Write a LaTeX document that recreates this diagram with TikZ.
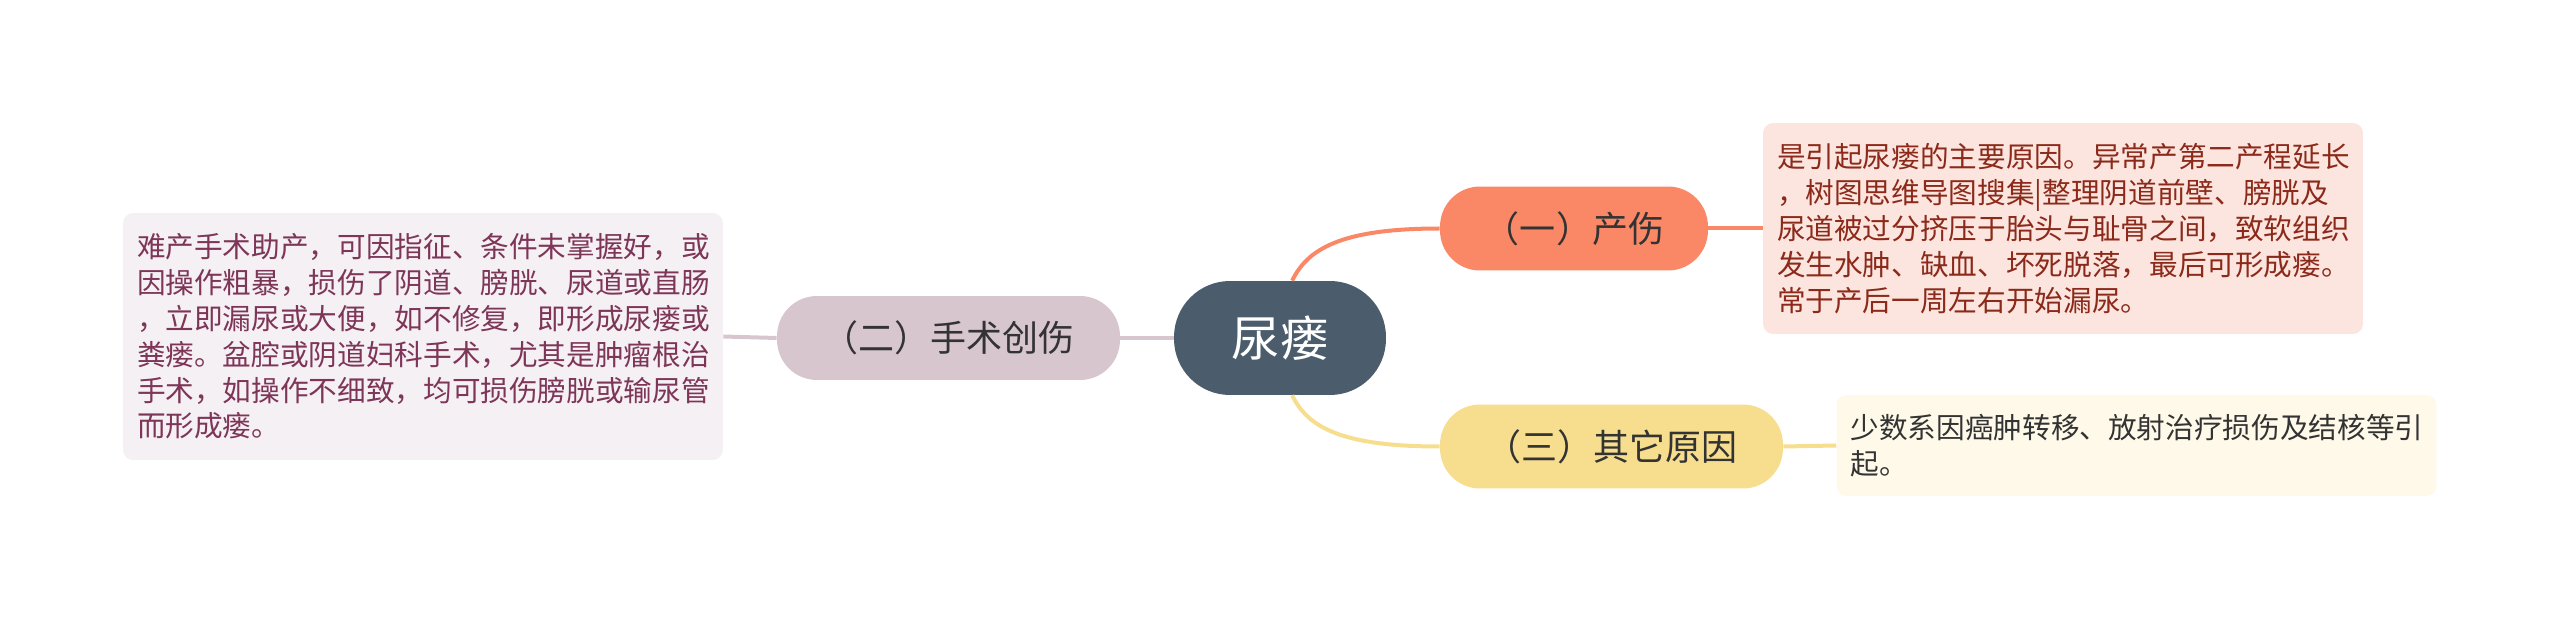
\documentclass[tikz,border=0pt]{standalone}
\usepackage{fontspec}
\setmainfont{Noto Sans CJK SC}
\usepackage{xcolor}
\usepackage{tikz}

\definecolor{rootc}{HTML}{4B5D6C}
\definecolor{chanc}{HTML}{FA8866}
\definecolor{shouc}{HTML}{D8C6CF}
\definecolor{qitac}{HTML}{F6DE8E}
\definecolor{chanbg}{HTML}{FDE5DF}
\definecolor{shoubg}{HTML}{F5F0F3}
\definecolor{qitabg}{HTML}{FEF9E9}
\definecolor{chantx}{HTML}{8B2A1A}
\definecolor{shoutx}{HTML}{7D3558}

\begin{document}
\begin{tikzpicture}[x=0.02cm, y=-0.02cm,
  br/.style={rounded corners=0.8cm, align=center, inner sep=0pt,
             minimum height=1.68cm, text=black!80,
             font=\fontsize{20.5pt}{24pt}\selectfont},
  card/.style={rounded corners=0.2cm, align=left, inner xsep=0.28cm,
               inner ysep=0pt, text width=11.44cm,
               font=\fontsize{16.3pt}{20.4pt}\selectfont},
  ln/.style={line width=0.08cm}]
\useasboundingbox (0,0) rectangle (2560,621);

% 中心与三条分支
\node[fill=rootc, text=white, rounded corners=1.12cm, minimum width=4.24cm,
      minimum height=2.28cm, font=\fontsize{27.5pt}{30pt}\selectfont]
  (root) at (1280,338) {尿瘘};
\node[br, fill=chanc, minimum width=5.36cm] (chan) at (1574,228.5) {（一）产伤};
\node[br, fill=shouc, minimum width=6.86cm] (shou) at (948.5,338) {（二）手术创伤};
\node[br, fill=qitac, minimum width=6.86cm] (qita) at (1611.5,446.5) {（三）其它原因};

% 说明卡片
\node[card, fill=chanbg, text=chantx, minimum height=4.22cm] (nchan) at (2063,228.5)
  {是引起尿瘘的主要原因。异常产第二产程延长\\
   ，树图思维导图搜集|整理阴道前壁、膀胱及\\
   尿道被过分挤压于胎头与耻骨之间，致软组织\\
   发生水肿、缺血、坏死脱落，最后可形成瘘。\\
   常于产后一周左右开始漏尿。};
\node[card, fill=shoubg, text=shoutx, minimum height=4.94cm] (nshou) at (423,336.5)
  {难产手术助产，可因指征、条件未掌握好，或\\
   因操作粗暴，损伤了阴道、膀胱、尿道或直肠\\
   ，立即漏尿或大便，如不修复，即形成尿瘘或\\
   粪瘘。盆腔或阴道妇科手术，尤其是肿瘤根治\\
   手术，如操作不细致，均可损伤膀胱或输尿管\\
   而形成瘘。};
\node[card, fill=qitabg, text=black!80, minimum height=2.02cm] (nqita) at (2136.5,445.5)
  {少数系因癌肿转移、放射治疗损伤及结核等引\\
   起。};

% 连线
\draw[ln, chanc] (root.78) .. controls +(15,-31) and +(-100,0) .. (chan.west);
\draw[ln, qitac] (root.-78) .. controls +(15,31) and +(-100,0) .. (qita.west);
\draw[ln, shouc] (root.west) -- (shou.east);
\draw[ln, chanc] (chan.east) -- (nchan.west);
\draw[ln, shouc] (shou.west) -- (nshou.east);
\draw[ln, qitac] (qita.east) -- (nqita.west);
\end{tikzpicture}
\end{document}
